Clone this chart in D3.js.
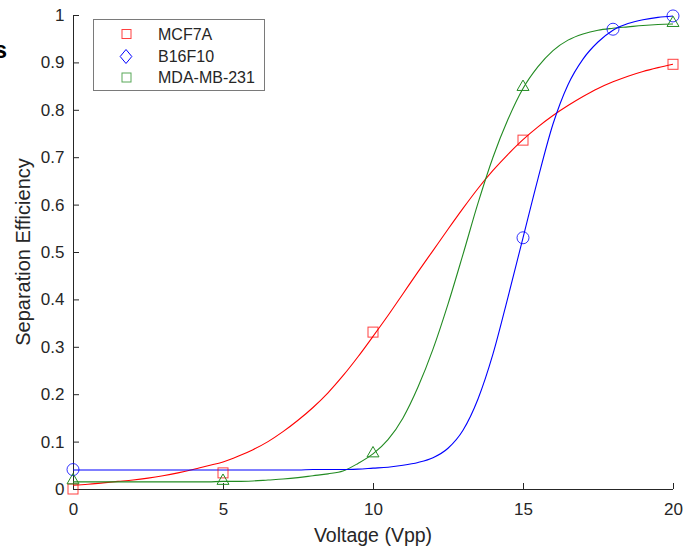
<!DOCTYPE html>
<html>
<head>
<meta charset="utf-8">
<script src="https://cdn.jsdelivr.net/npm/d3@7"></script>
<style>
  body { margin: 0; background: #fff; }
  text { font-family: Arial, "Liberation Sans", sans-serif; fill: #262626; }
</style>
</head>
<body>
<svg width="692" height="550"></svg>
<script>
// measured points
var voltages = [0, 5, 10, 15, 20];
var mcf7a = [0, 0.034, 0.331, 0.736, 0.896];
var b16Volt = [0, 15, 18, 20];
var b16f10 = [0.041, 0.53, 0.97, 0.998];
var mdaMb231 = [0.016, 0.015, 0.073, 0.846, 0.981];

// fitted curves, every 0.5 V
var fitVolt = d3.range(0, 20.01, 0.5);
var mcf7aFit = [0.008, 0.010, 0.013, 0.016, 0.019, 0.023, 0.028, 0.034, 0.041, 0.049,
  0.057, 0.069, 0.083, 0.100, 0.121, 0.145, 0.172, 0.203, 0.239, 0.279,
  0.322, 0.366, 0.412, 0.458, 0.503, 0.548, 0.592, 0.634, 0.672, 0.706,
  0.737, 0.764, 0.788, 0.809, 0.828, 0.845, 0.859, 0.871, 0.881, 0.889, 0.896];
var b16f10Fit = [0.040, 0.040, 0.040, 0.040, 0.040, 0.040, 0.040, 0.040, 0.040, 0.040,
  0.040, 0.040, 0.040, 0.040, 0.040, 0.040, 0.041, 0.041, 0.041, 0.042,
  0.044, 0.046, 0.050, 0.056, 0.066, 0.086, 0.124, 0.190, 0.285, 0.405,
  0.530, 0.655, 0.770, 0.853, 0.907, 0.943, 0.968, 0.982, 0.990, 0.995, 0.998];
var mdaFit = [0.015, 0.015, 0.015, 0.015, 0.015, 0.015, 0.015, 0.015, 0.015, 0.015,
  0.016, 0.016, 0.017, 0.019, 0.021, 0.024, 0.028, 0.032, 0.038, 0.054,
  0.074, 0.104, 0.150, 0.215, 0.295, 0.390, 0.495, 0.603, 0.700, 0.780,
  0.845, 0.891, 0.925, 0.947, 0.960, 0.968, 0.972, 0.975, 0.978, 0.980, 0.981];

var xTicks = [0, 5, 10, 15, 20];
var yTicks = [0, 0.1, 0.2, 0.3, 0.4, 0.5, 0.6, 0.7, 0.8, 0.9, 1];
var legendNames = ["MCF7A", "B16F10", "MDA-MB-231"];

var red = "#ff0000", blue = "#0000ff", green = "#228b22";

var svg = d3.select("svg");
var x = d3.scaleLinear().domain([0, 20]).range([73, 673]);
var y = d3.scaleLinear().domain([0, 1]).range([489, 15]);

// axes, ticks pointing inward
var xAxis = svg.append("g")
    .attr("transform", "translate(0," + y(0) + ")")
    .call(d3.axisBottom(x).tickValues(xTicks).tickSize(-6).tickPadding(14).tickFormat(d3.format("d")));
var yAxis = svg.append("g")
    .attr("transform", "translate(" + x(0) + ",0)")
    .call(d3.axisLeft(y).tickValues(yTicks).tickSize(-6).tickPadding(8.5).tickFormat(function(d) { return d === 0 || d === 1 ? d : d3.format(".1f")(d); }));
[xAxis, yAxis].forEach(function(a) {
  a.select(".domain").attr("stroke", "#262626");
  a.selectAll(".tick line").attr("stroke", "#262626");
  a.selectAll(".tick text").attr("font-size", 17).attr("fill", "#262626")
    .attr("font-family", "Arial, 'Liberation Sans', sans-serif");
});
// plain spines without end caps
xAxis.select(".domain").attr("d", "M" + x(0) + ",0.5H" + x(20));
yAxis.select(".domain").attr("d", "M0.5," + y(0) + "V" + y(1));

svg.append("text")
    .attr("x", (x(0) + x(20)) / 2).attr("y", 542)
    .attr("text-anchor", "middle").attr("font-size", 19.5)
    .text("Voltage (Vpp)");
svg.append("text")
    .attr("transform", "translate(30," + (y(0) + y(1)) / 2 + ") rotate(-90)")
    .attr("text-anchor", "middle").attr("font-size", 20)
    .text("Separation Efficiency");

svg.append("text")
    .attr("x", 7).attr("y", 58)
    .attr("text-anchor", "end").attr("font-size", 24).attr("font-weight", "bold")
    .style("fill", "#000")
    .text("s");

// fitted curves
var line = d3.line()
    .x(function(d) { return x(d[0]); })
    .y(function(d) { return y(d[1]); })
    .curve(d3.curveMonotoneX);

function curve(vals, color) {
  svg.append("path")
      .datum(d3.zip(fitVolt, vals))
      .attr("d", line)
      .attr("fill", "none")
      .attr("stroke", color)
      .attr("stroke-width", 1.1);
}
curve(mcf7aFit, red);
curve(mdaFit, green);
curve(b16f10Fit, blue);

// markers
svg.selectAll(".sq")
    .data(d3.zip(voltages, mcf7a))
  .enter().append("rect")
    .attr("x", function(d) { return x(d[0]) - 5; })
    .attr("y", function(d) { return y(d[1]) - 5; })
    .attr("width", 10).attr("height", 10)
    .attr("fill", "none").attr("stroke", red).attr("stroke-opacity", 0.75);

svg.selectAll(".circ")
    .data(d3.zip(b16Volt, b16f10))
  .enter().append("circle")
    .attr("cx", function(d) { return x(d[0]); })
    .attr("cy", function(d) { return y(d[1]); })
    .attr("r", 6)
    .attr("fill", "none").attr("stroke", blue).attr("stroke-opacity", 0.8);

var tri = d3.symbol().type(d3.symbolTriangle).size(62);
svg.selectAll(".tri")
    .data(d3.zip(voltages, mdaMb231))
  .enter().append("path")
    .attr("d", tri)
    .attr("transform", function(d) { return "translate(" + x(d[0]) + "," + (y(d[1]) - 1) + ")"; })
    .attr("fill", "none").attr("stroke", green);

// legend
var lg = svg.append("g");
lg.append("rect")
    .attr("x", 93.5).attr("y", 19.5).attr("width", 171).attr("height", 71)
    .attr("fill", "#fff").attr("stroke", "#7a7a7a");
var legendY = [34, 56.5, 77.5];
var legendColors = [red, blue, green];
legendNames.forEach(function(name, i) {
  if (i === 1) {
    lg.append("path")
        .attr("d", d3.symbol().type(d3.symbolDiamond).size(60))
        .attr("transform", "translate(126," + legendY[i] + ") scale(1.4,0.97)")
        .attr("fill", "none").attr("stroke", legendColors[i])
        .attr("vector-effect", "non-scaling-stroke");
  } else {
    lg.append("rect")
        .attr("x", 122).attr("y", legendY[i] - 4.5).attr("width", 9).attr("height", 9)
        .attr("fill", "none").attr("stroke", legendColors[i]).attr("stroke-opacity", 0.75);
  }
  lg.append("text")
      .attr("x", 158).attr("y", legendY[i] + 5.5)
      .attr("font-size", 16)
      .text(name);
});
</script>
</body>
</html>
